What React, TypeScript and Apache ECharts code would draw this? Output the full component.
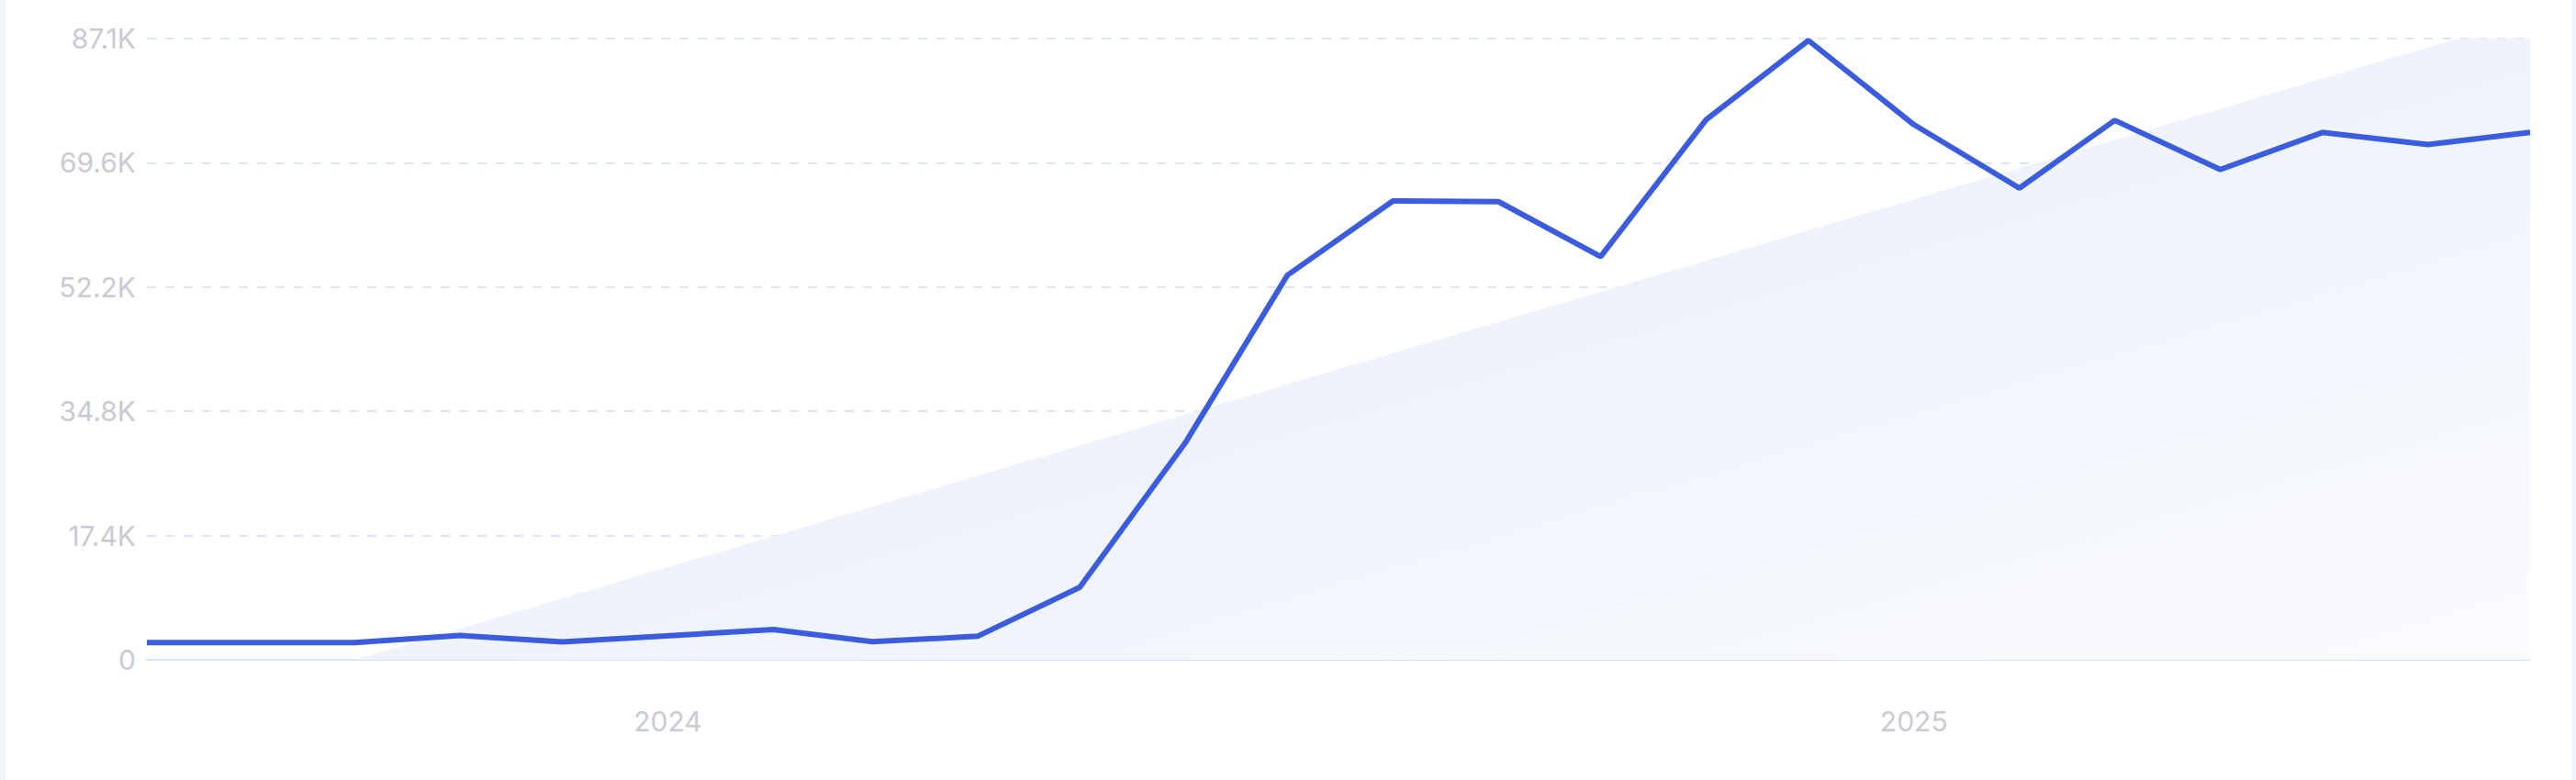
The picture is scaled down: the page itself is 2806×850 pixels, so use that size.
import React, { useEffect, useRef } from 'react';
import * as echarts from 'echarts';

// monthly readings (first day of each month)
const months = [
  '2023-08', '2023-10', '2023-11', '2023-12', '2024-02', '2024-03', '2024-04',
  '2024-05', '2024-06', '2024-07', '2024-08', '2024-09', '2024-10', '2024-11',
  '2024-12', '2025-01', '2025-02', '2025-03', '2025-04', '2025-05', '2025-06',
  '2025-07',
];
const values = [
  2400, 2400, 3400, 2500, 4240, 2530, 3300,
  10160, 30400, 53900, 64300, 64200, 56500, 75700,
  86800, 75000, 66100, 75600, 68700, 73900, 72200,
  73900,
];

// background trend area (start and end)
const trendMonths = ['2023-10', '2025-07'];
const trendValues = [0, 90050];

const xStart = '2023-08';
const xEnd = '2025-07';
const yMax = 87060;
const yStep = 17412;

const toTime = (m: string) => {
  const [y, mo] = m.split('-').map(Number);
  return new Date(y, mo - 1, 1).getTime();
};

const App: React.FC = () => {
  const chartRef = useRef<HTMLDivElement>(null);

  useEffect(() => {
    if (!chartRef.current) return;
    const chart = echarts.init(chartRef.current, undefined, { renderer: 'svg' });

    chart.setOption({
      animation: false,
      grid: {
        left: 154,
        right: 46,
        top: 42,
        bottom: 131,
        containLabel: false,
        outerBoundsMode: 'none',
      },
      xAxis: {
        type: 'time',
        min: toTime(xStart),
        max: toTime(xEnd),
        axisLine: { show: true, lineStyle: { color: '#d8e2f7', width: 2 } },
        axisTick: { show: false },
        splitLine: { show: false },
        axisLabel: {
          color: '#c9cad2',
          fontFamily: 'Inter',
          fontSize: 30,
          margin: 52,
          hideOverlap: false,
          formatter: (v: number) => {
            const d = new Date(v);
            return d.getMonth() === 0 && d.getDate() === 1 ? String(d.getFullYear()) : '';
          },
        },
      },
      yAxis: {
        type: 'value',
        min: 0,
        max: yMax,
        interval: yStep,
        axisLine: { show: false },
        axisTick: { show: false },
        splitLine: { lineStyle: { color: '#dde5f7', width: 2, type: [10, 10] } },
        axisLabel: {
          color: '#c9cad2',
          fontFamily: 'Inter',
          fontSize: 30,
          margin: 12,
          formatter: (v: number) => (v === 0 ? '0' : (v / 1000).toFixed(1) + 'K'),
        },
      },
      series: [
        {
          type: 'line',
          silent: true,
          symbol: 'none',
          z: 1,
          data: trendMonths.map((m, i) => [toTime(m), trendValues[i]]),
          lineStyle: { width: 0, opacity: 0 },
          areaStyle: {
            opacity: 1,
            color: new echarts.graphic.LinearGradient(0, 0, 1, 1, [
              { offset: 0, color: '#e2eaf9' },
              { offset: 1, color: '#fafbfe' },
            ]),
          },
        },
        {
          type: 'line',
          symbol: 'none',
          z: 3,
          data: months.map((m, i) => [toTime(m), values[i]]),
          lineStyle: { color: '#3b5ddd', width: 6 },
          itemStyle: { color: '#3b5ddd' },
        },
      ],
    });

    return () => chart.dispose();
  }, []);

  return (
    <div style={{ position: 'fixed', inset: 0, background: '#f0f4fa' }}>
      <div
        ref={chartRef}
        style={{ position: 'absolute', left: 6, top: 0, width: 2796, height: 850, background: '#ffffff' }}
      />
    </div>
  );
};

export default App;
